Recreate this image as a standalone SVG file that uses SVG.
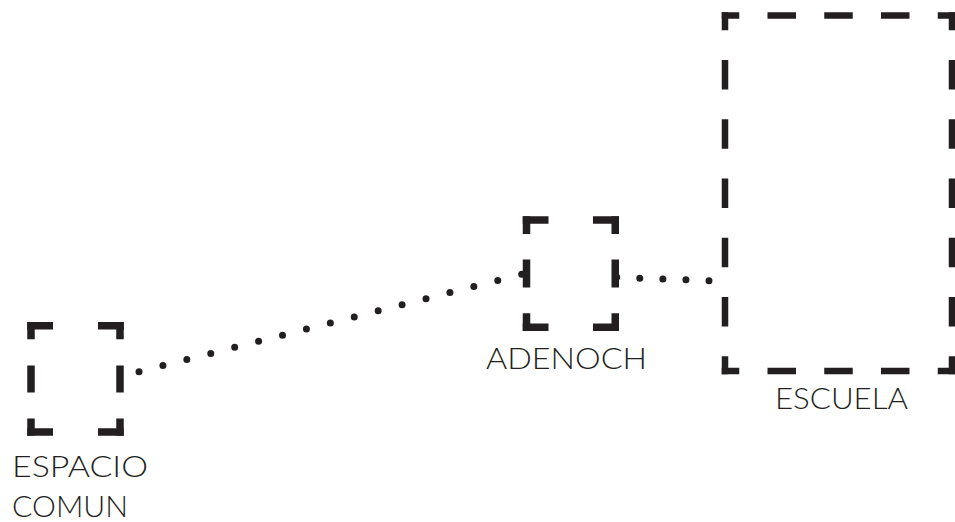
<svg xmlns="http://www.w3.org/2000/svg" width="955" height="522" viewBox="0 0 955 522">
<style>
  .frame { fill: none; stroke: #231f20; stroke-linecap: butt; }
  .big { stroke-width: 6.5; }
  .small { stroke-width: 7.5; }
  .dots { fill: none; stroke: #231f20; stroke-width: 7; stroke-linecap: round; }
  .label { font-family: Lato, "Liberation Sans", Arial, sans-serif; font-weight: 300; font-size: 30px; fill: #231f20; }
</style>
<rect x="0" y="0" width="955" height="522" fill="#ffffff"/>

<g id="connectors">
  <line class="dots" x1="139" y1="371.7" x2="521.7" y2="274.3" stroke-dasharray="0 24.68"/>
  <line class="dots" x1="616.7" y1="277.3" x2="709" y2="280.7" stroke-dasharray="0 23.09"/>
</g>

<g id="node-espacio-comun">
  <line class="frame small" x1="27.25" y1="325.8" x2="123.75" y2="325.8" stroke-dasharray="44 45" stroke-dashoffset="18.25"/>
  <line class="frame small" x1="27.25" y1="432" x2="123.75" y2="432" stroke-dasharray="44 45" stroke-dashoffset="18.25"/>
  <line class="frame small" x1="31" y1="322.05" x2="31" y2="435.75" stroke-dasharray="27 26.1" stroke-dashoffset="9.75"/>
  <line class="frame small" x1="120" y1="322.05" x2="120" y2="435.75" stroke-dasharray="27 26.1" stroke-dashoffset="9.75"/>
  <text class="label" x="12" y="477" textLength="136" lengthAdjust="spacingAndGlyphs">ESPACIO</text>
  <text class="label" x="12" y="516.5" textLength="116" lengthAdjust="spacingAndGlyphs">COMUN</text>
</g>

<g id="node-adenoch">
  <line class="frame small" x1="522.75" y1="220" x2="619" y2="220" stroke-dasharray="44 44.5" stroke-dashoffset="18.25"/>
  <line class="frame small" x1="522.75" y1="327.2" x2="619" y2="327.2" stroke-dasharray="44 44.5" stroke-dashoffset="18.25"/>
  <line class="frame small" x1="526.5" y1="216.25" x2="526.5" y2="330.95" stroke-dasharray="28 25.6" stroke-dashoffset="10.25"/>
  <line class="frame small" x1="615.25" y1="216.25" x2="615.25" y2="330.95" stroke-dasharray="28 25.6" stroke-dashoffset="10.25"/>
  <text class="label" x="486" y="368.5" textLength="161" lengthAdjust="spacingAndGlyphs">ADENOCH</text>
</g>

<g id="node-escuela">
  <line class="frame big" x1="721.75" y1="15.5" x2="955.25" y2="15.5" stroke-dasharray="28.5 28.25" stroke-dashoffset="11"/>
  <line class="frame big" x1="721.75" y1="371" x2="955.25" y2="371" stroke-dasharray="28.5 28.25" stroke-dashoffset="11"/>
  <line class="frame big" x1="725" y1="12.25" x2="725" y2="374.25" stroke-dasharray="29.5 29.75" stroke-dashoffset="11.5"/>
  <line class="frame big" x1="952" y1="12.25" x2="952" y2="374.25" stroke-dasharray="29.5 29.75" stroke-dashoffset="11.5"/>
  <text class="label" x="775" y="408.5" textLength="133" lengthAdjust="spacingAndGlyphs">ESCUELA</text>
</g>
</svg>
